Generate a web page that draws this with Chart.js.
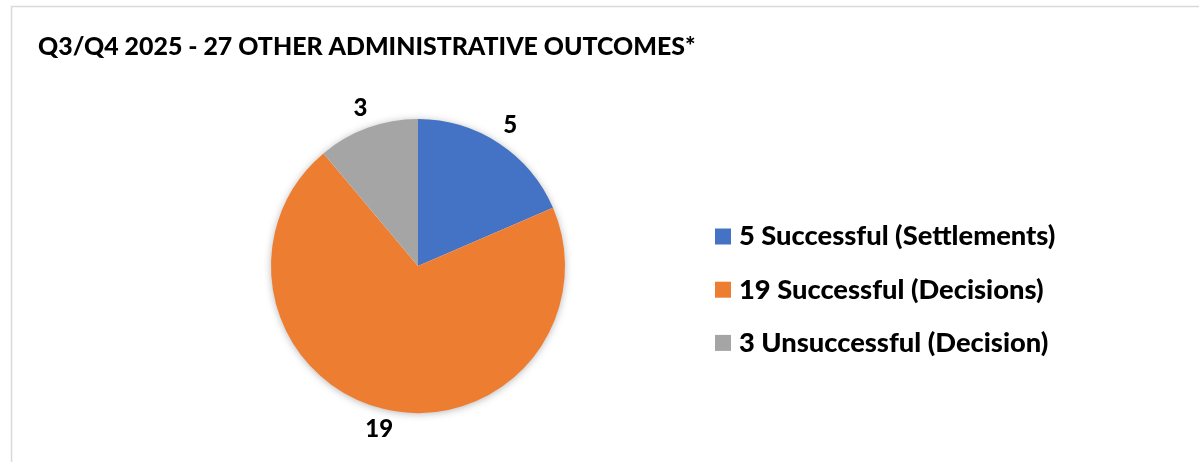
<!DOCTYPE html>
<html>
<head>
<meta charset="utf-8">
<script src="https://cdn.jsdelivr.net/npm/chart.js@4"></script>
<style>
  html, body { margin: 0; padding: 0; background: #fff; }
  #wrap { width: 1199px; height: 462px; position: relative; }
</style>
</head>
<body>
<div id="wrap"><canvas id="grafico"></canvas></div>
<script>
const titulo = "Q3/Q4 2025 - 27 OTHER ADMINISTRATIVE OUTCOMES*";
const categorias = ["5 Successful (Settlements)", "19 Successful (Decisions)", "3 Unsuccessful (Decision)"];
const valores = [5, 19, 3];
const colores = ["#4472C4", "#ED7D31", "#A5A5A5"];

const FUENTE = "Lato, 'Noto Sans', sans-serif";

// marco, sombra, titulo, etiquetas y leyenda
const decoracion = {
  id: "decoracion",
  beforeDraw(chart) {
    const c = chart.ctx;
    c.save();
    c.strokeStyle = "#d9d9d9";
    c.lineWidth = 1.5;
    c.beginPath();
    c.moveTo(11.5, chart.height);
    c.lineTo(11.5, 6.5);
    c.lineTo(chart.width, 6.5);
    c.stroke();

    c.fillStyle = "#000";
    c.font = "900 24.9px " + FUENTE;
    c.textBaseline = "middle";
    c.fillText(titulo, 38, 47);
    c.restore();
  },
  beforeDatasetsDraw(chart) {
    const arc = chart.getDatasetMeta(0).data[0];
    const c = chart.ctx;
    c.save();
    c.shadowColor = "rgba(0,0,0,0.35)";
    c.shadowBlur = 9;
    c.shadowOffsetY = 1;
    c.fillStyle = "#fff";
    c.beginPath();
    c.arc(arc.x, arc.y, arc.outerRadius - 1, 0, Math.PI * 2);
    c.fill();
    c.restore();
  },
  afterDatasetsDraw(chart) {
    const c = chart.ctx;
    const meta = chart.getDatasetMeta(0);
    c.save();
    c.fillStyle = "#000";
    c.font = "900 24px " + FUENTE;
    c.textAlign = "center";
    c.textBaseline = "middle";
    meta.data.forEach((a, i) => {
      const ang = (a.startAngle + a.endAngle) / 2;
      const r = a.outerRadius + 21;
      c.fillText(String(valores[i]), a.x + Math.cos(ang) * r, a.y + Math.sin(ang) * r);
    });

    // leyenda
    c.textAlign = "left";
    c.font = "900 27.3px " + FUENTE;
    categorias.forEach((txt, i) => {
      const y = 236.5 + i * 53.2;
      c.fillStyle = colores[i];
      c.fillRect(715, y - 8, 16, 16);
      c.fillStyle = "#000";
      c.fillText(txt, 739, y);
    });
    c.restore();
  }
};

new Chart(document.getElementById("grafico"), {
  type: "pie",
  data: {
    labels: categorias,
    datasets: [{
      data: valores,
      backgroundColor: colores,
      borderWidth: 0
    }]
  },
  options: {
    responsive: true,
    maintainAspectRatio: false,
    animation: false,
    layout: { padding: { top: 119, bottom: 49, left: 271, right: 634 } },
    plugins: {
      legend: { display: false },
      title: { display: false },
      tooltip: { enabled: false }
    }
  },
  plugins: [decoracion]
});
</script>
</body>
</html>
